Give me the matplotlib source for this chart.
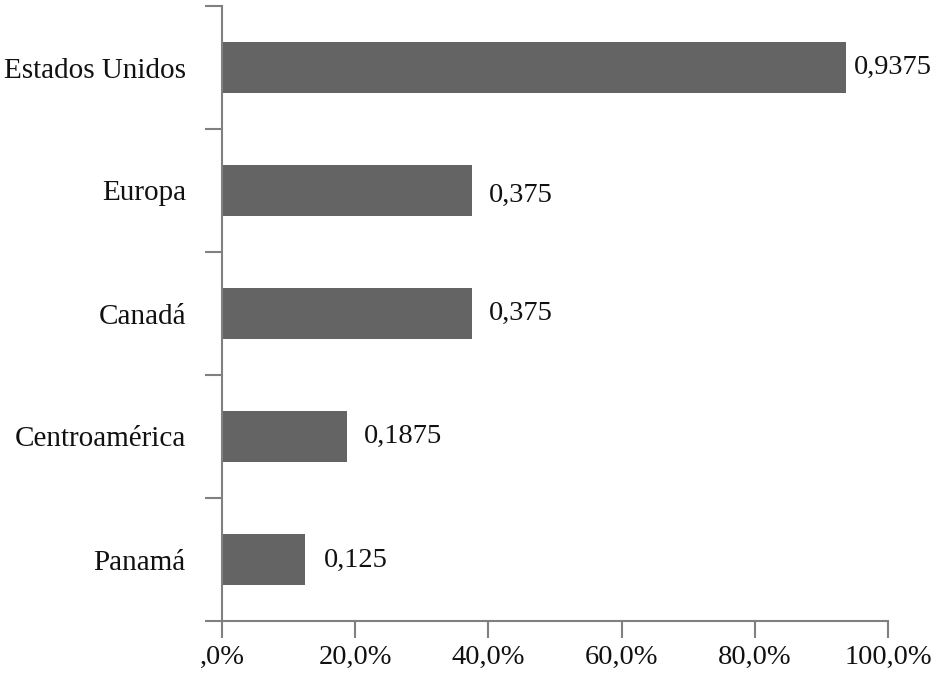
import matplotlib.pyplot as plt
from matplotlib.ticker import FixedLocator

# Data
categories = ['Estados Unidos', 'Europa', 'Canadá', 'Centroamérica', 'Panamá']
values = [0.9375, 0.375, 0.375, 0.1875, 0.125]
value_labels = ['0,9375', '0,375', '0,375', '0,1875', '0,125']
x_ticks = [0, 20, 40, 60, 80, 100]
x_tick_labels = [',0%', '20,0%', '40,0%', '60,0%', '80,0%', '100,0%']

plt.rcParams['font.family'] = ['Liberation Serif', 'DejaVu Serif']

W, H = 937, 697
fig = plt.figure(figsize=(W / 100, H / 100), dpi=100)
ax = fig.add_axes([222 / W, 76 / H, 666 / W, 615 / H])

gray = '#808080'
bar_color = '#646464'
y = list(range(len(categories)))
pct = [v * 100 for v in values]
ax.barh(y, pct, height=0.41, color=bar_color)

offsets = [8, 17, 17, 17, 19]
dys = [0, -5, 0, 0, -1]
for yi, p, lab, dx, dy in zip(y, pct, value_labels, offsets, dys):
    ax.annotate(lab, (p, yi), xytext=(dx * 0.72, dy * 0.72), textcoords='offset points',
                ha='left', va='center', fontsize=20.5, color='#111111')

ax.set_xlim(0, 100)
ax.set_ylim(len(categories) - 0.5, -0.5)

ax.set_xticks(x_ticks)
ax.set_xticklabels(x_tick_labels, fontsize=20.5, color='#111111')
ax.set_yticks(y)
ax.set_yticklabels(categories, fontsize=21, color='#111111')
ax.yaxis.set_minor_locator(FixedLocator([i - 0.5 for i in range(len(categories) + 1)]))

ax.tick_params(axis='y', which='major', length=0, pad=26)
ax.tick_params(axis='y', which='minor', length=12.2, width=1.5, color=gray, direction='out')
ax.tick_params(axis='x', which='major', length=12.2, width=1.5, color=gray, direction='out', pad=5)

for side in ['top', 'right']:
    ax.spines[side].set_visible(False)
for side in ['left', 'bottom']:
    ax.spines[side].set_color(gray)
    ax.spines[side].set_linewidth(1.5)

fig.savefig('out.png', dpi=100)
